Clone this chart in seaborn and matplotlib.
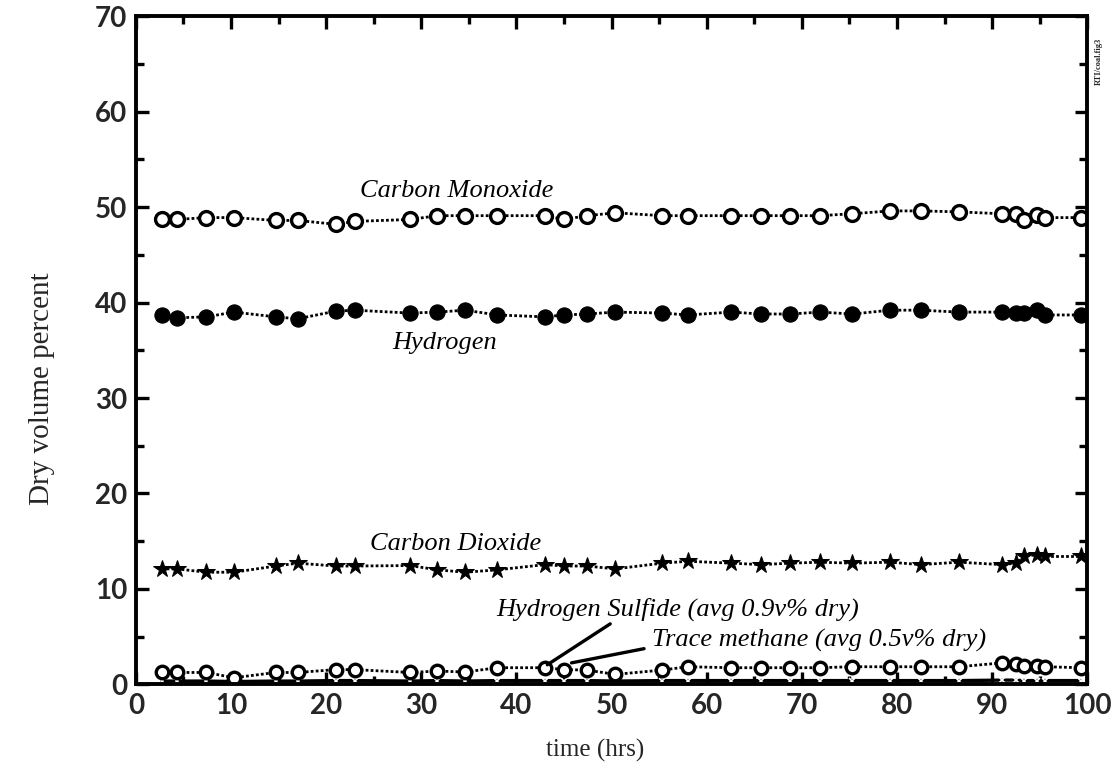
import matplotlib.pyplot as plt
import numpy as np
import seaborn as sns
import pandas as pd

sns.set_style("ticks")
plt.rcParams['font.family'] = ['Liberation Serif', 'DejaVu Serif']

# Sampling times (hrs)
hours = [2.7, 4.3, 7.4, 10.3, 14.7, 17.0, 21.0, 23.0, 28.8, 31.7, 34.6, 38.0,
         43.0, 45.0, 47.4, 50.4, 55.3, 58.0, 62.6, 65.7, 68.8, 71.9, 75.3, 79.3,
         82.5, 86.5, 91.0, 92.5, 93.4, 94.7, 95.6, 99.3]

# Dry volume percent
carbon_monoxide = [48.7, 48.7, 48.9, 48.9, 48.6, 48.6, 48.2, 48.5, 48.7, 49.1, 49.1, 49.1,
                   49.1, 48.7, 49.1, 49.4, 49.1, 49.1, 49.1, 49.1, 49.1, 49.1, 49.3, 49.6,
                   49.6, 49.5, 49.3, 49.3, 48.6, 49.2, 48.9, 48.9]
hydrogen = [38.7, 38.4, 38.5, 39.0, 38.5, 38.3, 39.1, 39.2, 38.9, 39.0, 39.2, 38.7,
            38.5, 38.7, 38.8, 39.0, 38.9, 38.7, 39.0, 38.8, 38.8, 39.0, 38.8, 39.2,
            39.2, 39.0, 39.0, 38.9, 38.9, 39.2, 38.7, 38.7]
carbon_dioxide = [12.1, 12.1, 11.75, 11.75, 12.4, 12.7, 12.4, 12.4, 12.45, 12.0, 11.75, 12.0,
                  12.55, 12.4, 12.4, 12.1, 12.7, 12.9, 12.7, 12.55, 12.7, 12.8, 12.7, 12.8,
                  12.55, 12.8, 12.55, 12.7, 13.4, 13.6, 13.4, 13.4]
hydrogen_sulfide = [1.25, 1.25, 1.25, 0.7, 1.25, 1.25, 1.55, 1.55, 1.25, 1.4, 1.3, 1.75,
                    1.75, 1.55, 1.5, 1.05, 1.5, 1.85, 1.75, 1.75, 1.75, 1.75, 1.85, 1.85,
                    1.85, 1.85, 2.25, 2.1, 1.95, 1.9, 1.85, 1.75]
methane = [0.35, 0.35, 0.35, 0.3, 0.35, 0.35, 0.4, 0.4, 0.35, 0.4, 0.35, 0.4,
           0.4, 0.4, 0.4, 0.35, 0.4, 0.4, 0.4, 0.4, 0.4, 0.4, 0.4, 0.4,
           0.4, 0.4, 0.45, 0.45, 0.4, 0.4, 0.4, 0.4]

df = pd.DataFrame({'hours': hours, 'co': carbon_monoxide, 'h2': hydrogen,
                   'co2': carbon_dioxide, 'h2s': hydrogen_sulfide, 'ch4': methane})

fig = plt.figure(figsize=(11.14, 7.69), dpi=100)
ax = fig.add_axes([0.122, 0.110, 0.854, 0.869])

dot = (0, (1, 0.8))
sns.lineplot(data=df, x='hours', y='ch4', ax=ax, color='black', linewidth=2.4,
             marker='x', markersize=5, markeredgewidth=1.2)
sns.lineplot(data=df, x='hours', y='h2s', ax=ax, color='black', linewidth=2.0, linestyle=dot,
             marker='o', markersize=9, markerfacecolor='white', markeredgecolor='black',
             markeredgewidth=2.4)
sns.lineplot(data=df, x='hours', y='co2', ax=ax, color='black', linewidth=2.0, linestyle=dot,
             marker='*', markersize=13, markerfacecolor='black', markeredgecolor='black')
sns.lineplot(data=df, x='hours', y='h2', ax=ax, color='black', linewidth=2.0, linestyle=dot,
             marker='o', markersize=11, markerfacecolor='black', markeredgecolor='black')
sns.lineplot(data=df, x='hours', y='co', ax=ax, color='black', linewidth=2.0, linestyle=dot,
             marker='o', markersize=10, markerfacecolor='white', markeredgecolor='black',
             markeredgewidth=2.4)

ax.set_xlim(0, 100)
ax.set_ylim(0, 70)
ax.set_xticks(np.arange(0, 101, 10))
ax.set_yticks(np.arange(0, 71, 10))
ax.set_xticks(np.arange(0, 101, 5), minor=True)
ax.set_yticks(np.arange(0, 71, 5), minor=True)
ax.tick_params(which='both', direction='in', top=True, right=True, width=2.4, color='black')
ax.tick_params(which='major', length=9, labelsize=20, pad=6)
ax.tick_params(which='minor', length=6)
for lab in ax.get_xticklabels() + ax.get_yticklabels():
    lab.set_family('Lato')
    lab.set_fontweight('bold')
for sp in ax.spines.values():
    sp.set_linewidth(2.8)
    sp.set_color('black')

ax.set_xlabel('time (hrs)', fontsize=18)
ax.xaxis.set_label_coords(0.483, -0.082)
ax.set_ylabel('Dry volume percent', fontsize=21)
ax.yaxis.set_label_coords(-0.085, 0.443)

lab_kw = dict(fontsize=19, style='italic', va='center', ha='left', color='black')
ax.text(23.6, 51.7, 'Carbon Monoxide', **lab_kw)
ax.text(26.9, 35.8, 'Hydrogen', **lab_kw)
ax.text(24.6, 14.7, 'Carbon Dioxide', **lab_kw)
ax.text(37.9, 7.9, 'Hydrogen Sulfide (avg 0.9v% dry)', **lab_kw)
ax.text(54.3, 4.6, 'Trace methane (avg 0.5v% dry)', **lab_kw)

ax.annotate('', xy=(43.0, 1.9), xytext=(50.1, 6.5),
            arrowprops=dict(arrowstyle='-', lw=2.4, color='black'))
ax.annotate('', xy=(45.5, 2.2), xytext=(53.7, 3.8),
            arrowprops=dict(arrowstyle='-', lw=2.4, color='black'))

fig.text(0.986, 0.92, 'RTI/coal.fig3', rotation=90, fontsize=6, ha='center', va='center',
         fontweight='bold')

fig.savefig('out.png', dpi=100)
